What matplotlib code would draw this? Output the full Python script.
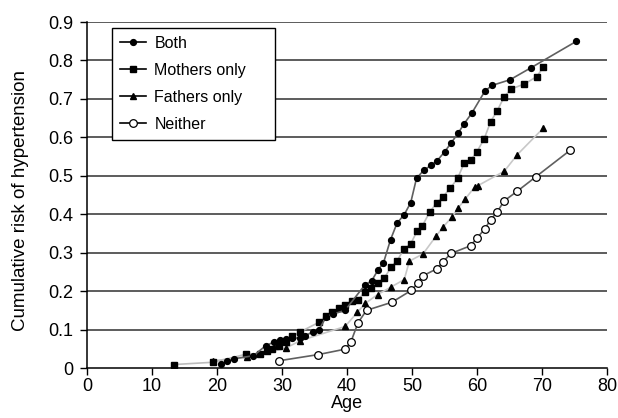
import numpy as np
import matplotlib
matplotlib.use("Agg")
import matplotlib.pyplot as plt

plt.rcParams['font.family'] = ['Liberation Sans', 'DejaVu Sans']

# ages / cumulative risk
both_age = [20.6, 21.6, 22.6, 25.6, 27.5, 28.7, 29.7, 30.6, 31.6, 32.8, 33.6, 34.7, 35.7,
            36.8, 37.8, 39.7, 42.7, 43.8, 44.8, 45.6, 46.7, 47.7, 48.8, 49.8, 50.7,
            51.8, 52.9, 53.8, 55.0, 56.0, 57.1, 58.0, 59.2, 61.2, 62.3, 65.1, 68.3, 75.3]
both_risk = [0.010, 0.017, 0.024, 0.032, 0.058, 0.067, 0.074, 0.075, 0.077, 0.079, 0.084, 0.094, 0.100,
             0.133, 0.140, 0.150, 0.215, 0.227, 0.256, 0.273, 0.334, 0.377, 0.399, 0.430, 0.494,
             0.514, 0.527, 0.538, 0.562, 0.585, 0.611, 0.635, 0.663, 0.720, 0.735, 0.750, 0.781, 0.850]

mothers_age = [13.4, 19.4, 24.5, 26.6, 27.7, 28.5, 29.5, 30.6, 31.6, 32.8, 35.7, 36.8, 37.7,
               38.8, 39.7, 40.7, 41.7, 42.8, 43.7, 44.7, 45.7, 46.8, 47.7, 48.8, 49.8,
               50.8, 51.6, 52.7, 53.8, 54.8, 55.9, 57.0, 58.0, 59.1, 60.0, 61.1, 62.1,
               63.1, 64.2, 65.3, 67.3, 69.2, 70.2]
mothers_risk = [0.009, 0.015, 0.036, 0.036, 0.044, 0.050, 0.056, 0.067, 0.083, 0.094, 0.119, 0.135, 0.145,
                0.156, 0.165, 0.175, 0.178, 0.198, 0.208, 0.222, 0.233, 0.263, 0.279, 0.310, 0.323,
                0.357, 0.370, 0.405, 0.430, 0.446, 0.468, 0.493, 0.532, 0.542, 0.563, 0.596, 0.641,
                0.669, 0.706, 0.726, 0.739, 0.758, 0.783]

fathers_age = [19.4, 24.6, 30.6, 32.8, 39.7, 41.6, 42.8, 44.7, 46.8, 48.8, 49.6, 51.7,
               53.7, 54.8, 56.1, 57.1, 58.2, 59.7, 60.1, 64.2, 66.2, 70.2]
fathers_risk = [0.019, 0.028, 0.052, 0.071, 0.108, 0.145, 0.168, 0.191, 0.211, 0.230, 0.278, 0.297,
                0.343, 0.367, 0.392, 0.416, 0.440, 0.472, 0.474, 0.512, 0.555, 0.624]

neither_age = [29.6, 35.6, 39.7, 40.6, 41.7, 43.0, 46.9, 49.9, 50.9, 51.7, 53.8, 54.8,
               56.0, 59.0, 60.0, 61.2, 62.1, 63.1, 64.2, 66.2, 69.1, 74.3]
neither_risk = [0.019, 0.035, 0.049, 0.068, 0.118, 0.150, 0.171, 0.202, 0.221, 0.240, 0.258, 0.277,
                0.298, 0.318, 0.338, 0.362, 0.386, 0.406, 0.435, 0.460, 0.498, 0.566]

fig = plt.figure(figsize=(6.18, 4.18), dpi=100)
ax = fig.add_axes([0.1408, 0.1196, 0.8414, 0.8277])

ax.plot(both_age, both_risk, color='#5f5f5f', lw=1.2, marker='o', ms=4.2,
        mfc='black', mec='black', label='Both', zorder=5)
ax.plot(mothers_age, mothers_risk, color='#bdbdbd', lw=1.2, marker='s', ms=4.8,
        mfc='black', mec='black', label='Mothers only', zorder=4)
ax.plot(fathers_age, fathers_risk, color='#c8c8c8', lw=1.2, marker='^', ms=4.5,
        mfc='black', mec='black', label='Fathers only', zorder=3)
ax.plot(neither_age, neither_risk, color='#5f5f5f', lw=1.2, marker='o', ms=5.5,
        mfc='white', mec='black', mew=0.9, label='Neither', zorder=6)

ax.set_xlim(0, 80)
ax.set_ylim(0, 0.9)
ax.set_xticks(np.arange(0, 81, 10))
ax.set_yticks(np.arange(0, 0.91, 0.1))
ax.set_yticklabels(['0'] + ['%.1f' % v for v in np.arange(0.1, 0.91, 0.1)])

for v in np.arange(0.1, 0.91, 0.1):
    ax.axhline(v, color='#303030', lw=1.1, zorder=1)

for s in ['top', 'right']:
    ax.spines[s].set_visible(False)
ax.spines['left'].set_linewidth(1.1)
ax.spines['bottom'].set_linewidth(1.1)
ax.tick_params(direction='out', length=5, width=1, labelsize=13, colors='black')
ax.tick_params(axis='x', pad=2)
ax.tick_params(axis='y', pad=5)

ax.set_xlabel('Age', fontsize=13, labelpad=0)
ax.set_ylabel('Cumulative risk of hypertension', fontsize=13.5)
ax.yaxis.set_label_coords(-0.112, 0.485)

leg = ax.legend(loc='upper left', bbox_to_anchor=(0.048, 0.983, 0.3135, 0.0),
                mode='expand', fontsize=11.5,
                frameon=True, fancybox=False, edgecolor='black', framealpha=1,
                handlelength=1.65, handletextpad=0.5, borderpad=0.5,
                labelspacing=0.75, borderaxespad=0)
leg.get_frame().set_linewidth(1)
for h in leg.get_lines():
    h.set_color('black')

fig.savefig('out.png', dpi=100)
